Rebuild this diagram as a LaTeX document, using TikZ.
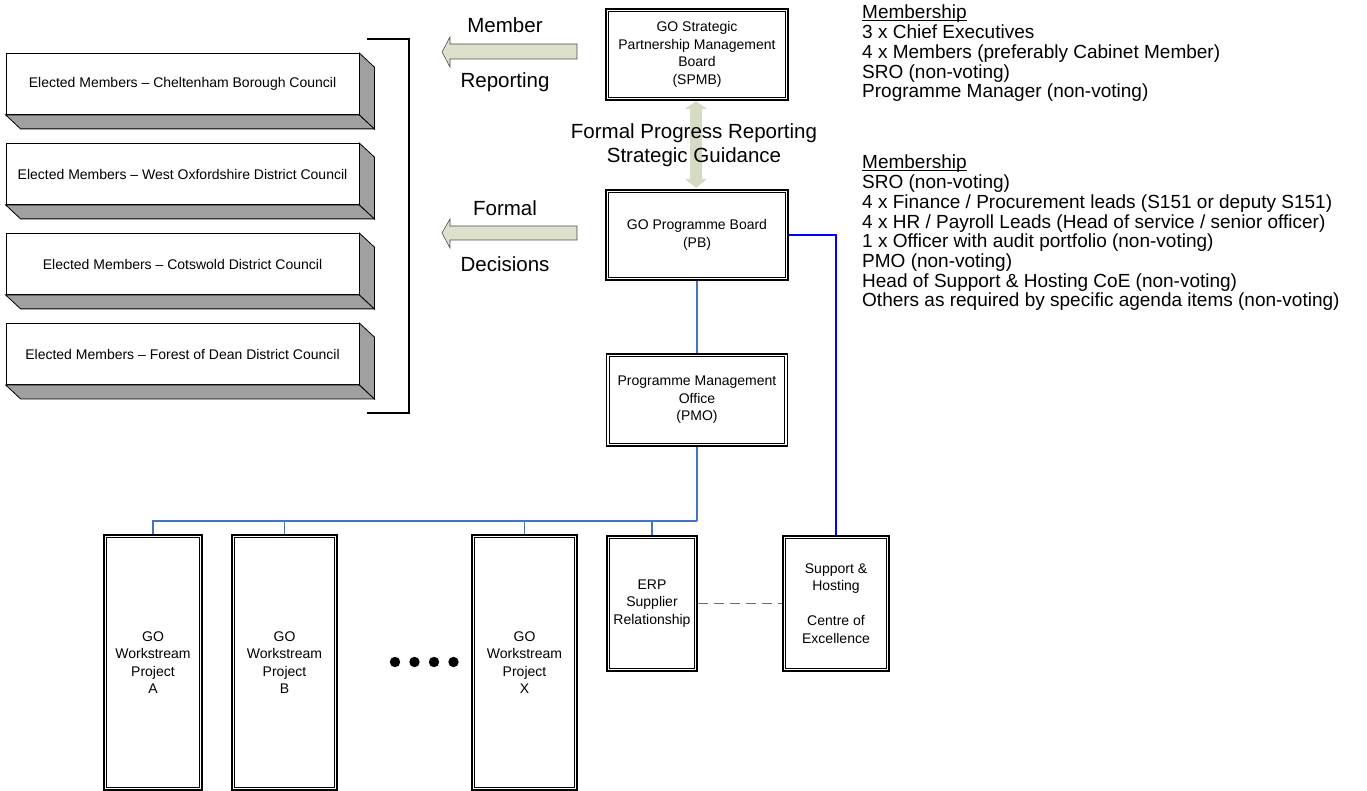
\documentclass[tikz,border=0pt]{standalone}
\usepackage{fontspec}
\setmainfont{Liberation Sans}
\usetikzlibrary{calc}
\definecolor{sage}{RGB}{221,225,204}
\definecolor{sagedark}{RGB}{214,220,196}
\definecolor{lineblue}{RGB}{68,114,196}
\definecolor{dashblue}{RGB}{68,114,196}
\definecolor{shadegray}{RGB}{160,160,160}
\newcommand\fsmall{\fontsize{14}{17.5}\selectfont}
\newcommand\fbig{\fontsize{20.5}{24}\selectfont}
\newcommand\fmem{\fontsize{19}{19.7}\selectfont}
\newcommand\myul[1]{\setbox0\hbox{#1}\rlap{\rule[-2.4pt]{\wd0}{0.9pt}}\box0}
\begin{document}
\begin{tikzpicture}[x=1pt,y=-1pt,
  emfront/.style={draw=black,line width=0.8pt,fill=white,minimum width=353pt,minimum height=61pt,inner sep=0pt,font=\fsmall},
  dbox/.style={draw=black,line width=1.1pt,fill=white,inner sep=0pt,align=center,font=\fsmall},
  innerline/.style={draw=black,line width=0.8pt},
  bigtext/.style={inner sep=0pt,align=center,font=\fbig},
  memtext/.style={inner sep=0pt,align=left,anchor=north west,font=\fmem},
  bluelink/.style={draw=lineblue,line width=1.1pt},
  sideface/.style={draw=black,line width=0.8pt,fill=shadegray},
  flatarrow/.style={draw=black!70,line width=0.6pt,fill=sage}
]
\useasboundingbox (0,0) rectangle (1367,791);

% Elected members 3D boxes
\foreach \n/\y/\t in {e1/84/Cheltenham Borough Council,e2/174/West Oxfordshire District Council,e3/264/Cotswold District Council,e4/354/Forest of Dean District Council}{
  \node[emfront] (\n) at (182.5,\y) {Elected Members -- \t};
  \draw[sideface] (\n.south west) -- (\n.south east) -- ($(\n.south east)+(15,14)$) -- ($(\n.south west)+(15,14)$) -- cycle;
  \draw[sideface] (\n.north east) -- ($(\n.north east)+(15,14)$) -- ($(\n.south east)+(15,14)$) -- (\n.south east) -- cycle;
}

% bracket
\coordinate (bt) at (367,39);
\coordinate (bb) at (367,413);
\draw[line width=1.6pt] (bt) -- (409,39) -- (409,413) -- (bb);

% left arrows
\draw[flatarrow] (442,52) -- (450,37) -- (450,44) -- (577,44) -- (577,59) -- (450,59) -- (450,67) -- cycle;
\draw[flatarrow] (442,233) -- (450,219) -- (450,226) -- (577,226) -- (577,240) -- (450,240) -- (450,248) -- cycle;
\node[bigtext] (tmember) at (505,25) {Member};
\node[bigtext] (treporting) at (505,82) {Reporting};
\node[bigtext] (tformal) at (505,208) {Formal};
\node[bigtext] (tdecisions) at (505,264) {Decisions};

% boards
\node[dbox,minimum width=182pt,minimum height=91pt] (SPMB) at (697,54.5) {GO Strategic\\Partnership Management\\Board\\(SPMB)};
\node[dbox,minimum width=182pt,minimum height=90pt] (PB) at (697,235) {GO Programme Board\\(PB)};
\node[dbox,minimum width=181pt,minimum height=92pt] (PMO) at (697,400) {Programme Management\\Office\\(PMO)};

% double arrow between SPMB and PB
\fill[sagedark] (696,101) -- (707,109) -- (702,109) -- (702,179) -- (707,179) -- (696,188) -- (685,179) -- (690,179) -- (690,109) -- (685,109) -- cycle;
\node[bigtext] (tprog) at (694,145) {Formal Progress Reporting\\Strategic Guidance};

% lower boxes
\node[dbox,minimum width=90pt,minimum height=135pt] (ERP) at (652,603.5) {ERP\\Supplier\\Relationship};
\node[dbox,minimum width=106pt,minimum height=135pt] (SUP) at (836,603.5) {Support \&\\Hosting\\[17.5pt]Centre of\\Excellence};
\node[dbox,minimum width=98pt,minimum height=255pt] (WA) at (153,662.5) {GO\\Workstream\\Project\\A};
\node[dbox,minimum width=105pt,minimum height=255pt] (WB) at (284.5,662.5) {GO\\Workstream\\Project\\B};
\node[dbox,minimum width=105pt,minimum height=255pt] (WX) at (524.5,662.5) {GO\\Workstream\\Project\\X};

% inner lines of the double borders
\foreach \n in {SPMB,PB,PMO,ERP,SUP,WA,WB,WX}{
  \draw[innerline] ($(\n.south west)+(3.2,-3.2)$) rectangle ($(\n.north east)+(-3.2,3.2)$);
}

% dots
\foreach \x in {395,414.5,434,453.5}{\fill (\x,662) circle (5.2);}

% connectors
\coordinate (bus) at (697,521);
\draw[bluelink] (PB.south) -- (PMO.north);
\draw[bluelink] (PMO.south) -- (bus);
\draw[bluelink] (bus) -| (WA.north);
\draw[bluelink] (bus) -| (WB.north);
\draw[bluelink] (bus) -| (WX.north);
\draw[bluelink] (bus) -| (ERP.north);
\draw[draw=blue,line width=1.2pt] (PB.east) -| (SUP.north);
\draw[draw=dashblue,line width=1.1pt,dash pattern=on 10pt off 6pt] (ERP.east) -- (SUP.west);

% membership texts
\node[memtext] (mem1) at (862,5) {\myul{Membership}\\3 x Chief Executives\\4 x Members (preferably Cabinet Member)\\SRO (non-voting)\\Programme Manager (non-voting)};
\node[memtext] (mem2) at (862,155) {\myul{Membership}\\SRO (non-voting)\\4 x Finance / Procurement leads (S151 or deputy S151)\\4 x HR / Payroll Leads (Head of service / senior officer)\\1 x Officer with audit portfolio (non-voting)\\PMO (non-voting)\\Head of Support \& Hosting CoE (non-voting)\\Others as required by specific agenda items (non-voting)};
\end{tikzpicture}
\end{document}
